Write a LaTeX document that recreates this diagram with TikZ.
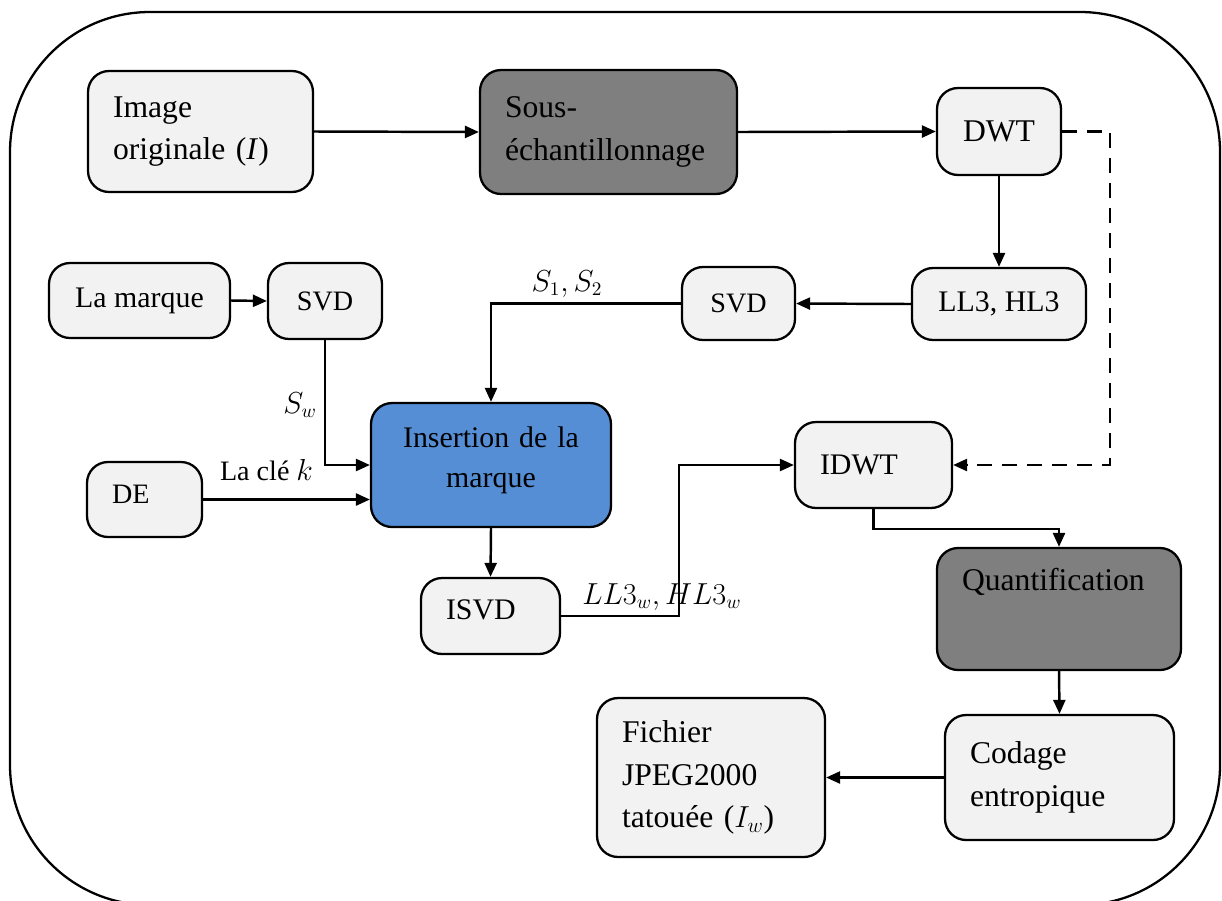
\documentclass[tikz,border=0pt]{standalone}
\usepackage{fontspec}
\setmainfont{Liberation Serif}
\usetikzlibrary{arrows.meta}

\definecolor{boxgray}{HTML}{F2F2F2}
\definecolor{darkgray}{HTML}{7F7F7F}
\definecolor{markblue}{HTML}{558ED5}

\begin{document}
\begin{tikzpicture}[
    x=0.02cm, y=-0.02cm,
    blk/.style={draw=black, line width=1.3pt, rounded corners=0.42cm, fill=boxgray, inner xsep=0.5cm, inner ysep=0pt, font=\fontsize{18}{24.4}\selectfont},
    lblk/.style={blk, align=left},
    cblk/.style={blk, align=center},
    dark blk/.style={fill=darkgray},
    small/.style={font=\fontsize{16}{20}\selectfont},
    mid/.style={font=\fontsize{17}{22.7}\selectfont},
    flow/.style={line width=1.4pt, -{Triangle[length=0.28cm, width=0.24cm]}},
    flow lbl/.style={font=\fontsize{16}{20}\selectfont, inner sep=0pt}
]
\useasboundingbox (0,0) rectangle (1222,900);
\clip (0,0) rectangle (1222,900);

% cadre
\draw[line width=1.3pt, rounded corners=2.8cm] (10,12) rectangle (1220,905);

% blocs
\node[lblk, text width=3.5cm, minimum height=2.42cm] (img) at (200.5,131.5) {Image\\originale (\textit{I})};
\node[lblk, dark blk, text width=4.14cm, minimum height=2.48cm] (sous) at (608.5,132) {Sous-\\échantillonnage};
\node[cblk, minimum width=2.48cm, minimum height=1.74cm] (dwt) at (999,131.5) {DWT};
\node[cblk, mid, minimum width=3.48cm, minimum height=1.44cm] (ll) at (999,304) {LL3, HL3};
\node[cblk, small, minimum width=2.26cm, minimum height=1.46cm] (svdr) at (738.5,303.5) {SVD};
\node[cblk, mid, minimum width=3.62cm, minimum height=1.5cm] (marque) at (139.5,300.5) {La marque};
\node[cblk, small, minimum width=2.28cm, minimum height=1.52cm] (svdl) at (325,301) {SVD};
\node[cblk, mid, fill=markblue, text width=3.8cm, minimum height=2.48cm, text depth=1.1cm] (ins) at (491,465) {Insertion de la\\marque};
\node[lblk, small, text width=1.3cm, minimum height=1.5cm, text depth=0.2cm] (de) at (144.5,499.5) {DE};
\node[lblk, mid, text width=1.78cm, minimum height=1.52cm, text depth=0.25cm] (isvd) at (490.5,616) {ISVD};
\node[lblk, mid, text width=2.14cm, minimum height=1.72cm] (idwt) at (873.5,465) {IDWT};
\node[lblk, dark blk, text width=3.88cm, minimum height=2.44cm, text depth=1.2cm] (quant) at (1059,609) {Quantification};
\node[lblk, text width=3.58cm, minimum height=2.5cm] (codage) at (1059.5,777.5) {Codage\\entropique};
\node[lblk, text width=3.56cm, minimum height=3.18cm] (fich) at (711,777.5) {Fichier\\JPEG2000\\tatouée ($I_w$)};

% liaisons
\draw[flow] (img.east) -- (sous.west);
\draw[flow] (sous.east) -- (dwt.west);
\draw[flow] (dwt.south) -- (ll.north);
\draw[flow, dash pattern=on 0.3cm off 0.2cm] (dwt.east) -- ++(48,0) |- (idwt.east);
\draw[flow] (ll.west) -- (svdr.east);
\draw[flow] (svdr.west) -| (ins.north) node[flow lbl, pos=0.3, above=0.1cm] {$S_1, S_2$};
\draw[flow] (marque.east) -- (svdl.west);
\draw[flow] (svdl.south) |- (ins.west) node[flow lbl, pos=0.26, left=0.14cm] {$S_w$};
\draw[flow] (de.east) -- (de.east -| ins.west) node[flow lbl, pos=0.38, above=0.36cm] {La clé $k$};
\draw[flow] (ins.south) -- (isvd.north);
\draw[flow] (isvd.east) -- ++(118,0) |- (idwt.west);
\draw[flow] (idwt.south) -- ++(0,20) -| (quant.north);
\draw[flow] (quant.south) -- (codage.north);
\draw[flow] (codage.west) -- (fich.east);

\node[flow lbl] (lblw) at (662,597) {$LL3_w, HL3_w$};

\end{tikzpicture}
\end{document}
